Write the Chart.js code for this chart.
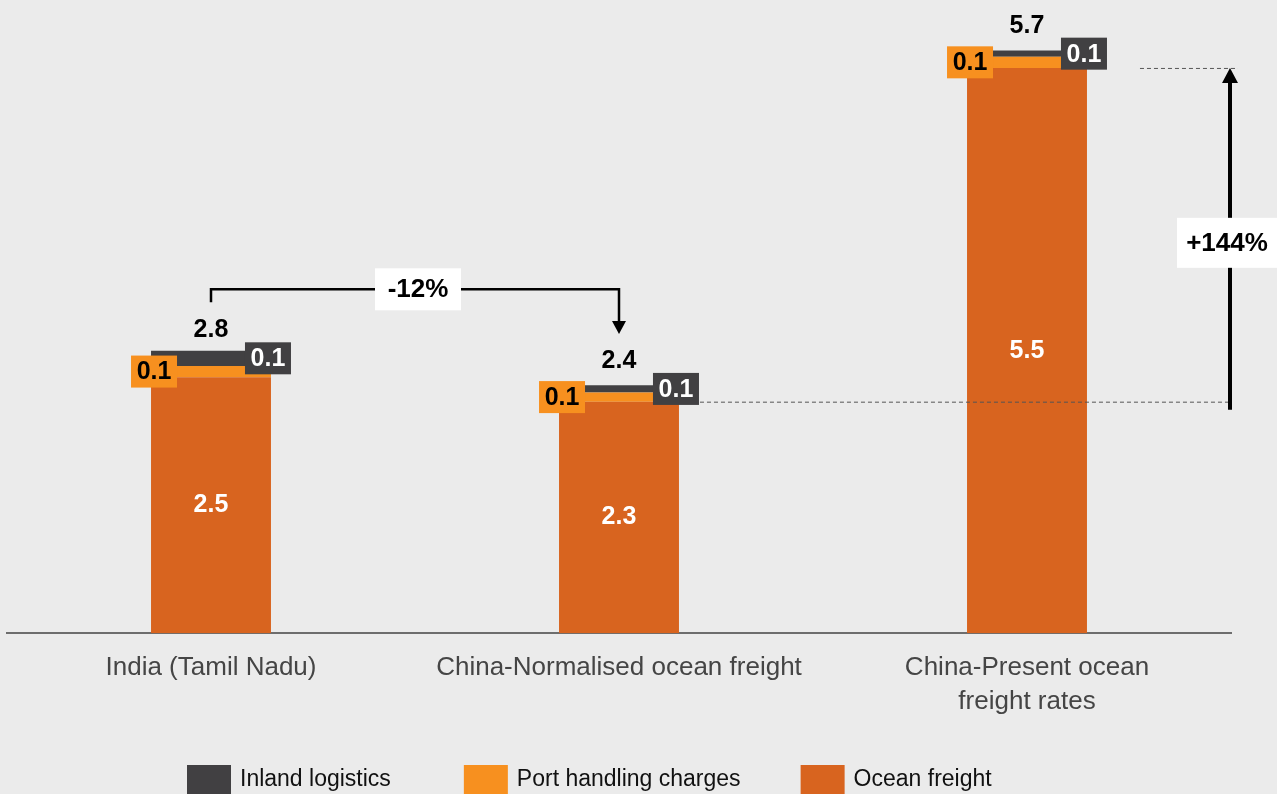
<!DOCTYPE html>
<html>
<head>
<meta charset="utf-8">
<script src="https://cdn.jsdelivr.net/npm/chart.js@4.4.1/dist/chart.umd.min.js"></script>
<style>
  html, body { margin: 0; padding: 0; background: #ebebeb; }
</style>
</head>
<body>
<canvas id="graficoFrete" width="1277" height="794"></canvas>
<script>
// cost per unit, split by component
var categories = ["India (Tamil Nadu)", "China-Normalised ocean freight", ["China-Present ocean", "freight rates"]];
var oceanFreight = [2.51, 2.27, 5.54];
var portHandling = [0.11, 0.09, 0.11];
var inlandLogistics = [0.15, 0.07, 0.06];
var seriesNames = ["Ocean freight", "Port handling charges", "Inland logistics"];

var COLOR_OCEAN = "#d8641f";
var COLOR_PORT = "#f7901f";
var COLOR_INLAND = "#414042";
var FONT = '"Liberation Sans", Arial, Helvetica, sans-serif';

function totalOf(i) {
  return oceanFreight[i] + portHandling[i] + inlandLogistics[i];
}

function drawTag(ctx, cx, cy, fill, color, text) {
  ctx.fillStyle = fill;
  ctx.fillRect(cx - 23, cy - 16, 46, 32);
  ctx.fillStyle = color;
  ctx.textAlign = "center";
  ctx.textBaseline = "middle";
  ctx.fillText(text, cx, cy + 1);
}

function dashed(ctx, xa, xb, y) {
  ctx.save();
  ctx.strokeStyle = "#555";
  ctx.lineWidth = 1;
  ctx.setLineDash([4, 3]);
  ctx.beginPath();
  ctx.moveTo(xa, y + 0.5);
  ctx.lineTo(xb, y + 0.5);
  ctx.stroke();
  ctx.restore();
}

function whiteLabel(ctx, cx, cy, w, h, text) {
  ctx.fillStyle = "#fff";
  ctx.fillRect(cx - w / 2, cy - h / 2, w, h);
  ctx.fillStyle = "#000";
  ctx.font = "bold 26px " + FONT;
  ctx.textAlign = "center";
  ctx.textBaseline = "middle";
  ctx.fillText(text, cx, cy + 1);
}

var costLabels = {
  id: "costLabels",
  afterDatasetsDraw: function (chart) {
    var ctx = chart.ctx;
    var ocean = chart.getDatasetMeta(0).data;
    var port = chart.getDatasetMeta(1).data;
    var inland = chart.getDatasetMeta(2).data;
    var labelTops = [];

    ctx.save();
    ctx.font = "bold 25px " + FONT;
    for (var i = 0; i < categories.length; i++) {
      var o = ocean[i], p = port[i], n = inland[i];
      var left = o.x - o.width / 2;
      var right = o.x + o.width / 2;

      ctx.fillStyle = "#fff";
      ctx.textAlign = "center";
      ctx.textBaseline = "middle";
      ctx.fillText(oceanFreight[i].toFixed(1), o.x, (o.y + o.base) / 2);

      drawTag(ctx, left + 3, (p.y + p.base) / 2, COLOR_PORT, "#000", portHandling[i].toFixed(1));
      var inlandMid = (n.y + n.base) / 2;
      drawTag(ctx, right - 3, inlandMid, COLOR_INLAND, "#fff", inlandLogistics[i].toFixed(1));

      var baseline = inlandMid - 21;
      ctx.fillStyle = "#000";
      ctx.textAlign = "center";
      ctx.textBaseline = "alphabetic";
      ctx.fillText(totalOf(i).toFixed(1), o.x, baseline);
      labelTops.push(baseline - 18);
    }

    // India -> China normalised: change in total cost
    var x0 = ocean[0].x, x1 = ocean[1].x;
    var yStart = labelTops[0] - 17;
    var yLine = yStart - 13;
    var yTip = labelTops[1] - 16;
    ctx.strokeStyle = "#000";
    ctx.lineWidth = 2.5;
    ctx.lineJoin = "miter";
    ctx.beginPath();
    ctx.moveTo(x0, yStart);
    ctx.lineTo(x0, yLine);
    ctx.lineTo(x1, yLine);
    ctx.lineTo(x1, yTip - 10);
    ctx.stroke();
    ctx.fillStyle = "#000";
    ctx.beginPath();
    ctx.moveTo(x1 - 7, yTip - 13);
    ctx.lineTo(x1 + 7, yTip - 13);
    ctx.lineTo(x1, yTip);
    ctx.closePath();
    ctx.fill();
    var drop = Math.round((totalOf(1) / totalOf(0) - 1) * 100);
    whiteLabel(ctx, (x0 + x1) / 2 + 3, yLine, 86, 42, drop + "%");

    // normalised -> present ocean freight
    var ax = chart.chartArea.right - 1;
    var yLow = ocean[1].y;
    var yHigh = ocean[2].y;
    dashed(ctx, ocean[1].x + ocean[1].width / 2 + 21, ax, yLow);
    dashed(ctx, ocean[2].x + ocean[2].width / 2 + 53, ax + 8, yHigh);
    ctx.strokeStyle = "#000";
    ctx.lineWidth = 4;
    ctx.beginPath();
    ctx.moveTo(ax, yLow + 8);
    ctx.lineTo(ax, yHigh + 12);
    ctx.stroke();
    ctx.beginPath();
    ctx.moveTo(ax - 8, yHigh + 15);
    ctx.lineTo(ax + 8, yHigh + 15);
    ctx.lineTo(ax, yHigh);
    ctx.closePath();
    ctx.fill();
    var rise = Math.round((oceanFreight[2] / oceanFreight[1] - 1) * 100);
    whiteLabel(ctx, ax - 3, (yLow + yHigh) / 2 + 8, 100, 50, "+" + rise + "%");
    ctx.restore();
  },
  afterDraw: function (chart) {
    var ctx = chart.ctx;
    var items = [
      [seriesNames[2], COLOR_INLAND],
      [seriesNames[1], COLOR_PORT],
      [seriesNames[0], COLOR_OCEAN],
    ];
    var gaps = [73, 60];
    var lx = chart.chartArea.left + 180;
    var ly = chart.height - 29;
    ctx.save();
    ctx.font = "23px " + FONT;
    ctx.textAlign = "left";
    ctx.textBaseline = "middle";
    items.forEach(function (it, k) {
      ctx.fillStyle = it[1];
      ctx.fillRect(lx, ly, 44, 30);
      ctx.fillStyle = "#111";
      ctx.fillText(it[0], lx + 53, ly + 15);
      lx += 53 + ctx.measureText(it[0]).width + (gaps[k] || 0);
    });
    ctx.restore();
  },
};

var ctx = document.getElementById("graficoFrete").getContext("2d");
var graficoFrete = new Chart(ctx, {
  type: "bar",
  data: {
    labels: categories,
    datasets: [
      { label: seriesNames[0], data: oceanFreight, backgroundColor: COLOR_OCEAN },
      { label: seriesNames[1], data: portHandling, backgroundColor: COLOR_PORT },
      { label: seriesNames[2], data: inlandLogistics, backgroundColor: COLOR_INLAND },
    ],
  },
  options: {
    responsive: false,
    animation: false,
    events: [],
    categoryPercentage: 1,
    barPercentage: 0.294,
    layout: { padding: { top: 21, left: 7, right: 46, bottom: 58 } },
    plugins: {
      legend: { display: false },
      tooltip: { enabled: false },
    },
    scales: {
      x: {
        stacked: true,
        grid: { display: false, drawTicks: false },
        border: { color: "#6d6d6d", width: 2 },
        ticks: {
          color: "#454545",
          font: { family: FONT, size: 26, lineHeight: 1.32 },
          padding: 17,
          maxRotation: 0,
          autoSkip: false,
        },
      },
      y: {
        stacked: true,
        display: false,
        min: 0,
        max: 6,
      },
    },
  },
  plugins: [costLabels],
});
</script>
</body>
</html>
